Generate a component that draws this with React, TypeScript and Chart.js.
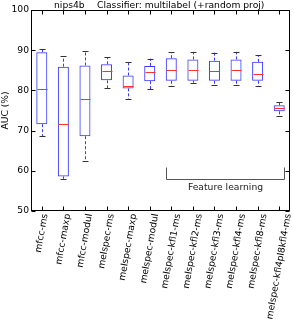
import React, { useEffect, useRef } from "react";
import { Chart, registerables } from "chart.js";

Chart.register(...registerables);

const categories = [
  "mfcc-ms", "mfcc-maxp", "mfcc-modul", "melspec-ms", "melspec-maxp", "melspec-modul",
  "melspec-kfl1-ms", "melspec-kfl2-ms", "melspec-kfl3-ms", "melspec-kfl4-ms", "melspec-kfl8-ms",
  "melspec-kfl4pl8kfl4-ms",
];
const whiskerLow = [68.6, 58.0, 62.4, 80.5, 77.9, 80.3, 81.0, 81.9, 81.4, 81.4, 81.0, 73.6];
const q1 = [71.6, 58.6, 68.6, 82.5, 80.5, 82.3, 82.4, 82.4, 82.4, 82.4, 82.4, 74.8];
const median = [80.3, 71.6, 77.8, 84.9, 81.2, 84.7, 85.0, 85.0, 84.8, 85.0, 84.1, 75.5];
const q3 = [89.5, 85.9, 86.2, 86.5, 83.7, 86.1, 88.0, 87.7, 87.4, 87.7, 87.1, 76.3];
const whiskerHigh = [90.3, 88.5, 89.7, 88.2, 87.0, 87.9, 89.5, 89.6, 89.4, 89.6, 88.7, 77.2];
const yTicks = [50, 60, 70, 80, 90, 100];
const titleLeft = "nips4b";
const titleRight = "Classifier: multilabel (+random proj)";
const yLabel = "AUC (%)";
const bracketLabel = "Feature learning";
const bracketX = [5.75, 11.2];
const bracketY = [61, 58];
const bracketTextY = 55.8;

const FONT = "9.2px 'DejaVu Sans'";
const BLUE = "#3a3aff";

const overlay = {
  id: "overlay",
  afterDraw(chart: any) {
    const ctx = chart.ctx;
    const xs = chart.scales.x;
    const ys = chart.scales.y;
    const a = chart.chartArea;
    ctx.save();
    // whiskers, caps, medians
    const boxW = 11;
    const capW = 6;
    for (let i = 0; i < categories.length; i++) {
      const cx = Math.round(xs.getPixelForValue(i)) + 0.5;
      ctx.strokeStyle = BLUE;
      ctx.lineWidth = 1;
      ctx.setLineDash([3, 2]);
      ctx.beginPath();
      ctx.moveTo(cx, ys.getPixelForValue(q3[i]));
      ctx.lineTo(cx, ys.getPixelForValue(whiskerHigh[i]));
      ctx.moveTo(cx, ys.getPixelForValue(q1[i]));
      ctx.lineTo(cx, ys.getPixelForValue(whiskerLow[i]));
      ctx.stroke();
      ctx.setLineDash([]);
      ctx.strokeStyle = "#333";
      ctx.beginPath();
      const yh = Math.round(ys.getPixelForValue(whiskerHigh[i])) + 0.5;
      const yl = Math.round(ys.getPixelForValue(whiskerLow[i])) + 0.5;
      ctx.moveTo(cx - capW / 2, yh);
      ctx.lineTo(cx + capW / 2, yh);
      ctx.moveTo(cx - capW / 2, yl);
      ctx.lineTo(cx + capW / 2, yl);
      ctx.stroke();
      ctx.strokeStyle = "#ff3030";
      const ym = Math.round(ys.getPixelForValue(median[i])) + 0.5;
      ctx.beginPath();
      ctx.moveTo(cx - boxW / 2 + 0.5, ym);
      ctx.lineTo(cx + boxW / 2 - 0.5, ym);
      ctx.stroke();
    }
    // frame
    ctx.strokeStyle = "#000";
    ctx.lineWidth = 1;
    const L = Math.round(a.left) + 0.5, R = Math.round(a.right) - 0.5;
    const T = Math.round(a.top) + 0.5, B = Math.round(a.bottom) - 0.5;
    ctx.strokeRect(L, T, R - L, B - T);
    // ticks inside
    ctx.beginPath();
    for (const v of yTicks) {
      const y = Math.round(ys.getPixelForValue(v)) + 0.5;
      ctx.moveTo(L, y); ctx.lineTo(L + 4, y);
      ctx.moveTo(R, y); ctx.lineTo(R - 4, y);
    }
    for (let i = 0; i < categories.length; i++) {
      const x = Math.round(xs.getPixelForValue(i)) + 0.5;
      ctx.moveTo(x, B); ctx.lineTo(x, B - 4);
      ctx.moveTo(x, T); ctx.lineTo(x, T + 4);
    }
    ctx.stroke();
    // x labels, rotated 80 deg, bbox centered on tick
    ctx.font = FONT;
    ctx.fillStyle = "#000";
    ctx.textAlign = "center";
    ctx.textBaseline = "middle";
    const th = Math.PI * 80 / 180;
    const H = 10.5;
    for (let i = 0; i < categories.length; i++) {
      const x = xs.getPixelForValue(i);
      const Ltxt = ctx.measureText(categories[i]).width;
      const bh = Ltxt * Math.sin(th) + H * Math.cos(th);
      ctx.save();
      ctx.translate(x, a.bottom + 2 + bh / 2);
      ctx.rotate(-th);
      ctx.fillText(categories[i], 0, 0);
      ctx.restore();
    }
    // title
    ctx.textAlign = "left";
    ctx.textBaseline = "alphabetic";
    ctx.fillText(titleLeft, 54, 8);
    ctx.fillText(titleRight, 97, 8);
    // y label
    ctx.save();
    ctx.translate(6, (a.top + a.bottom) / 2);
    ctx.rotate(-Math.PI / 2);
    ctx.textAlign = "center";
    ctx.textBaseline = "middle";
    ctx.fillText(yLabel, 0, 0);
    ctx.restore();
    // bracket
    ctx.strokeStyle = "#555";
    const bx0 = Math.round(xs.getPixelForValue(bracketX[0])) + 0.5;
    const bx1 = Math.round(xs.getPixelForValue(bracketX[1])) + 0.5;
    const by0 = Math.round(ys.getPixelForValue(bracketY[0])) + 0.5;
    const by1 = Math.round(ys.getPixelForValue(bracketY[1])) + 0.5;
    ctx.beginPath();
    ctx.moveTo(bx0, by0); ctx.lineTo(bx0, by1); ctx.lineTo(bx1, by1); ctx.lineTo(bx1, by0);
    ctx.stroke();
    ctx.fillStyle = "#222";
    ctx.textAlign = "center";
    ctx.textBaseline = "middle";
    ctx.fillText(bracketLabel, (bx0 + bx1) / 2, ys.getPixelForValue(bracketTextY));
    ctx.restore();
  },
};

export default function App() {
  const ref = useRef<HTMLCanvasElement | null>(null);
  useEffect(() => {
    document.body.style.margin = "0";
    const chart = new Chart(ref.current as HTMLCanvasElement, {
      type: "bar",
      data: {
        labels: categories,
        datasets: [
          {
            data: categories.map((_, i) => [q1[i], q3[i]]) as any,
            borderColor: BLUE,
            backgroundColor: "rgba(0,0,0,0)",
            borderWidth: 1,
            borderSkipped: false,
            barPercentage: 0.51,
            categoryPercentage: 1,
          },
        ],
      },
      options: {
        animation: false,
        responsive: true,
        maintainAspectRatio: false,
        layout: { padding: { top: 10, right: 3, left: 0, bottom: 0 } },
        plugins: { legend: { display: false }, tooltip: { enabled: false }, title: { display: false } },
        scales: {
          x: {
            type: "category",
            offset: true,
            grid: { display: false },
            border: { display: false },
            ticks: { display: false },
            afterFit: (s: any) => { s.height = 110; },
          },
          y: {
            min: 50,
            max: 100,
            grid: { display: false, drawTicks: false },
            border: { display: false },
            ticks: {
              stepSize: 10,
              padding: 2,
              color: "#000",
              font: { family: "DejaVu Sans", size: 9.2 },
            },
            afterFit: (s: any) => { s.width = 31; },
          },
        },
      },
      plugins: [overlay],
    });
    return () => chart.destroy();
  }, []);
  return (
    <div style={{ position: "absolute", left: 0, top: 0, width: 293, height: 321, background: "#fff" }}>
      <canvas ref={ref} />
    </div>
  );
}
